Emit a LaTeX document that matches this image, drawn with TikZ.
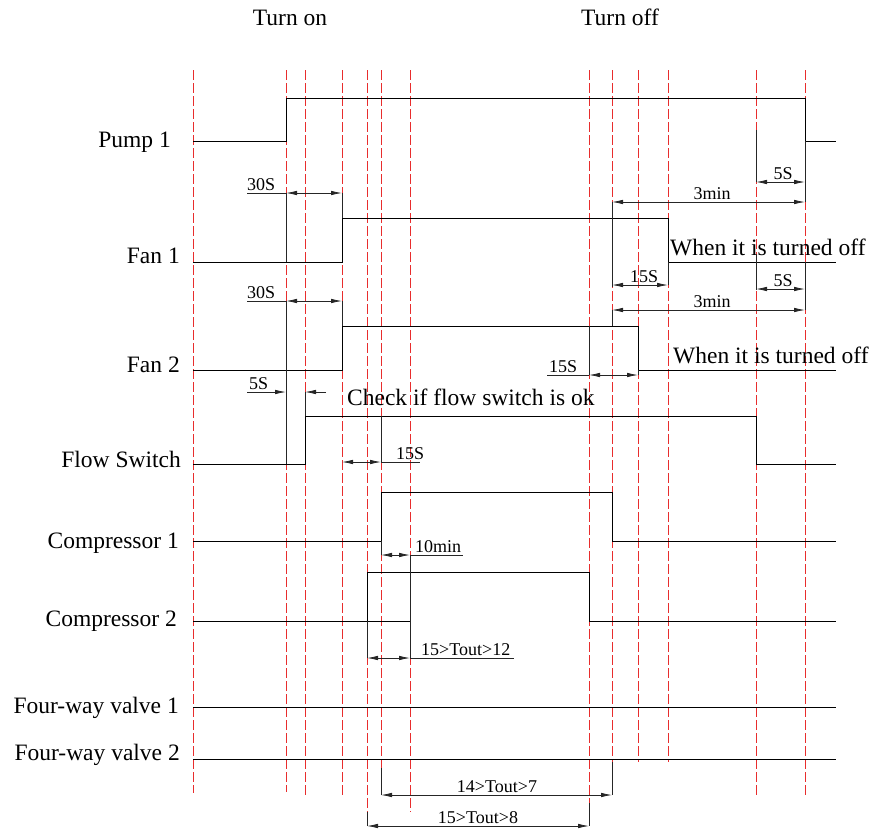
\documentclass[tikz,border=0pt]{standalone}
\usepackage{fontspec}
\setmainfont{Liberation Serif}
\usetikzlibrary{arrows.meta}
\definecolor{guidered}{RGB}{232,45,45}

\begin{document}
\begin{tikzpicture}[
  x=1pt, y=-1pt,
  sig/.style={line width=0.8pt, black},
  guide/.style={guidered, line width=0.8pt, dash pattern=on 10pt off 3pt},
  ext/.style={line width=0.8pt, black!85},
  dim/.style={line width=0.8pt, black!85},
  dimarr/.style={dim, {Latex[length=11pt,width=4.5pt]}-{Latex[length=11pt,width=4.5pt]}},
  tip/.style={dim, -{Latex[length=11pt,width=4.5pt]}},
  lbl/.style={font=\fontsize{23.5}{26}\selectfont, anchor=base east, inner sep=0pt},
  note/.style={font=\fontsize{23.5}{26}\selectfont, anchor=base west, inner sep=0pt},
  title/.style={font=\fontsize{23.5}{26}\selectfont, anchor=base, inner sep=0pt},
  dimtxt/.style={font=\fontsize{18}{20}\selectfont, anchor=base, inner sep=0pt},
  dimtxtl/.style={dimtxt, anchor=base west}
]
  \useasboundingbox (0,0) rectangle (877,830);

  % time marks
  \foreach \x/\yb in {193/793, 286/792, 305/795, 342/796, 367/812, 381/768,
                      410/812, 589/803, 612/762, 638/762, 668/762, 756/796, 805/796}
    \draw[guide] (\x,70) -- (\x,\yb);

  % titles
  \node[title] (ton)  at (290,25) {Turn on};
  \node[title] (toff) at (620,25) {Turn off};

  % signal names
  \node[lbl] (pump) at (171,147) {Pump 1};
  \node[lbl] (fanA) at (180,263) {Fan 1};
  \node[lbl] (fanB) at (180,372) {Fan 2};
  \node[lbl] (flow) at (181,467) {Flow Switch};
  \node[lbl] (compA) at (179,548) {Compressor 1};
  \node[lbl] (compB) at (177,626) {Compressor 2};
  \node[lbl] (valveA) at (179,713) {Four-way valve 1};
  \node[lbl] (valveB) at (180,760) {Four-way valve 2};

  % signals
  \draw[sig] (193,141) -- (286,141) -- (286,98) -- (805,98) -- (805,141) -- (836,141);
  \draw[sig] (193,262) -- (342,262) -- (342,218) -- (668,218) -- (668,262) -- (836,262);
  \draw[sig] (193,370) -- (342,370) -- (342,326) -- (638,326) -- (638,370) -- (836,370);
  \draw[sig] (193,464) -- (305,464) -- (305,416) -- (756,416) -- (756,464) -- (836,464);
  \draw[sig] (193,541) -- (381,541) -- (381,492) -- (612,492) -- (612,541) -- (836,541);
  \draw[sig] (193,621) -- (410,621);
  \draw[sig] (367,621) -- (367,572) -- (589,572) -- (589,621) -- (836,621);
  \draw[sig] (193,707) -- (836,707);
  \draw[sig] (193,759) -- (836,759);

  % extension lines
  \draw[ext] (286,193) -- (286,262);
  \draw[ext] (286,301) -- (286,464);
  \draw[ext] (342,193) -- (342,218);
  \draw[ext] (342,301) -- (342,326);
  \draw[ext] (305,392) -- (305,416);
  \draw[ext] (381,416) -- (381,462);
  \draw[ext] (381,541) -- (381,555);
  \draw[ext] (381,768) -- (381,795);
  \draw[ext] (410,555) -- (410,658);
  \draw[ext] (367,621) -- (367,658);
  \draw[ext] (367,812) -- (367,826);
  \draw[ext] (589,803) -- (589,826);
  \draw[ext] (589,326) -- (589,375);
  \draw[ext] (612,762) -- (612,795);
  \draw[ext] (612,202) -- (612,287);
  \draw[ext] (612,310) -- (612,326);
  \draw[ext] (668,262) -- (668,285);
  \draw[ext] (638,370) -- (638,375);
  \draw[ext] (756,130) -- (756,182);
  \draw[ext] (756,255) -- (756,290);
  \draw[ext] (805,141) -- (805,202);
  \draw[ext] (805,262) -- (805,310);

  % turn on dimensions
  \draw[dim] (247,193) -- (286,193);
  \draw[dimarr] (286,193) -- (342,193);
  \node[dimtxtl] at (247,190) {30S};
  \draw[dim] (247,301) -- (286,301);
  \draw[dimarr] (286,301) -- (342,301);
  \node[dimtxtl] at (247,298) {30S};
  \draw[tip] (247,392) -- (286,392);
  \draw[tip] (326,392) -- (305,392);
  \node[dimtxtl] at (249,389) {5S};
  \draw[dimarr] (342,462) -- (381,462);
  \draw[dim] (381,462) -- (420,462);
  \node[dimtxtl] at (396,459) {15S};
  \draw[dimarr] (381,555) -- (410,555);
  \draw[dim] (410,555) -- (463,555);
  \node[dimtxtl] at (415,552) {10min};
  \draw[dimarr] (367,658) -- (410,658);
  \draw[dim] (410,658) -- (514,658);
  \node[dimtxtl] at (421,655) {15>Tout>12};
  \draw[dimarr] (381,795) -- (612,795);
  \node[dimtxt] at (497,792) {14>Tout>7};
  \draw[dimarr] (367,826) -- (589,826);
  \node[dimtxt] at (478,823) {15>Tout>8};

  % turn off dimensions
  \draw[dimarr] (756,182) -- (805,182);
  \node[dimtxt] at (783,179) {5S};
  \draw[dimarr] (612,202) -- (805,202);
  \node[dimtxt] at (712,199) {3min};
  \draw[dimarr] (612,285) -- (668,285);
  \node[dimtxt] at (644,282) {15S};
  \draw[dimarr] (756,289) -- (805,289);
  \node[dimtxt] at (783,286) {5S};
  \draw[dimarr] (612,310) -- (805,310);
  \node[dimtxt] at (712,307) {3min};
  \draw[dim] (547,375) -- (589,375);
  \draw[dimarr] (589,375) -- (638,375);
  \node[dimtxtl] at (549,372) {15S};

  % notes
  \node[note] (chk)  at (347,405) {Check if flow switch is ok};
  \node[note] (offA) at (670,255) {When it is turned off};
  \node[note] (offB) at (673,363) {When it is turned off};
\end{tikzpicture}
\end{document}
